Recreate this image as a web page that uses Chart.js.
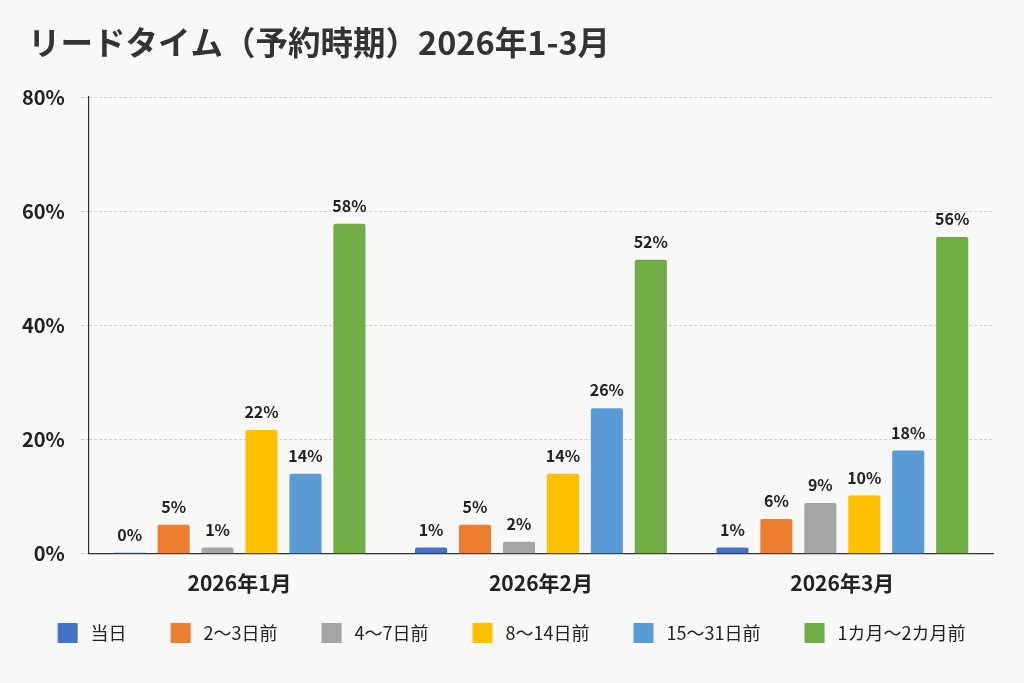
<!DOCTYPE html>
<html lang="ja">
<head>
<meta charset="utf-8">
<title>リードタイム（予約時期）2026年1-3月</title>
<script src="https://cdn.jsdelivr.net/npm/chart.js@4.4.1/dist/chart.umd.min.js"></script>
<style>
    html, body { margin: 0; padding: 0; background: #f8f8f8; }
    #wrap { width: 1024px; height: 683px; position: relative; }
</style>
</head>
<body>
<div id="wrap"><canvas id="leadChart" width="1024" height="683"></canvas></div>
<script>
const chartTitle = 'リードタイム（予約時期）2026年1-3月';
const months = ['2026年1月', '2026年2月', '2026年3月'];
const seriesNames = ['当日', '2～3日前', '4～7日前', '8～14日前', '15～31日前', '1カ月～2カ月前'];
const seriesColors = ['#4472C4', '#ED7D31', '#A5A5A5', '#FFC000', '#5B9BD5', '#70AD47'];

// percent share per lead-time bucket (Jan, Feb, Mar)
const sameDay = [0.2, 1.1, 1.1];
const days2to3 = [5.1, 5.1, 6.1];
const days4to7 = [1.1, 2.1, 8.9];
const days8to14 = [21.7, 14.0, 10.2];
const days15to31 = [14.0, 25.5, 18.1];
const month1to2 = [57.8, 51.5, 55.5];

const yTicks = [0, 20, 40, 60, 80];

const seriesValues = [sameDay, days2to3, days4to7, days8to14, days15to31, month1to2];
const fontFamily = '"Noto Sans CJK JP", "Noto Sans", sans-serif';

// legend swatch: colour square with blank room on its left,
// so the legend items get spread out like in the original
const SWATCH_W = 48;
function makeSwatch(color) {
    const c = document.createElement('canvas');
    c.width = SWATCH_W;
    c.height = 20;
    const g = c.getContext('2d');
    g.fillStyle = color;
    g.fillRect(SWATCH_W - 24, 0, 20, 20);
    return c;
}
const swatches = seriesColors.map(makeSwatch);

const titleText = {
    id: 'titleText',
    afterDraw(chart) {
        const ctx = chart.ctx;
        ctx.save();
        ctx.font = 'bold 32.5px ' + fontFamily;
        ctx.fillStyle = '#333';
        ctx.textAlign = 'left';
        ctx.textBaseline = 'middle';
        ctx.fillText(chartTitle, 28, 43);
        ctx.restore();
    }
};

// labels above each bar
const barLabels = {
    id: 'barLabels',
    afterDatasetsDraw(chart) {
        const ctx = chart.ctx;
        ctx.save();
        ctx.font = 'bold 16px ' + fontFamily;
        ctx.fillStyle = '#222';
        ctx.textAlign = 'center';
        ctx.textBaseline = 'bottom';
        chart.data.datasets.forEach((ds, i) => {
            const meta = chart.getDatasetMeta(i);
            meta.data.forEach((bar, j) => {
                ctx.fillText(Math.round(ds.data[j]) + '%', bar.x, bar.y - 10);
            });
        });
        ctx.restore();
    }
};

const ctx = document.getElementById('leadChart').getContext('2d');

new Chart(ctx, {
    type: 'bar',
    data: {
        labels: months,
        datasets: seriesNames.map((name, i) => ({
            label: name,
            data: seriesValues[i],
            backgroundColor: seriesColors[i],
            borderRadius: 2,
            borderSkipped: 'bottom',
            categoryPercentage: 0.875,
            barPercentage: 0.73
        }))
    },
    options: {
        responsive: false,
        animation: false,
        devicePixelRatio: 1,
        layout: {
            padding: { left: 6, right: 31, top: 97, bottom: 31 }
        },
        plugins: {
            title: { display: false },
            legend: {
                position: 'bottom',
                labels: {
                    color: '#222',
                    usePointStyle: true,
                    pointStyleWidth: SWATCH_W,
                    boxHeight: 20,
                    padding: 20,
                    font: { family: fontFamily, size: 18 },
                    generateLabels(chart) {
                        const items = Chart.defaults.plugins.legend.labels.generateLabels(chart);
                        items.forEach((item, i) => { item.pointStyle = swatches[i]; });
                        return items;
                    }
                }
            },
            tooltip: { enabled: false }
        },
        scales: {
            x: {
                grid: { display: false },
                border: { display: true, color: '#333', width: 1.2 },
                ticks: {
                    color: '#222',
                    padding: 8.5,
                    font: { family: fontFamily, size: 21, weight: 'bold' }
                }
            },
            y: {
                min: 0,
                max: 80,
                afterBuildTicks(axis) {
                    axis.ticks = yTicks.map(v => ({ value: v }));
                },
                grid: {
                    color: '#d0d0d0',
                    tickLength: 8,
                    tickColor: '#d0d0d0',
                    tickBorderDash: [3, 2]
                },
                border: { display: true, color: '#333', width: 1.2, dash: [3, 2] },
                ticks: {
                    color: '#222',
                    padding: 16,
                    font: { family: fontFamily, size: 20, weight: 'bold' },
                    callback: v => v + '%'
                }
            }
        }
    },
    plugins: [barLabels, titleText]
});
</script>
</body>
</html>
